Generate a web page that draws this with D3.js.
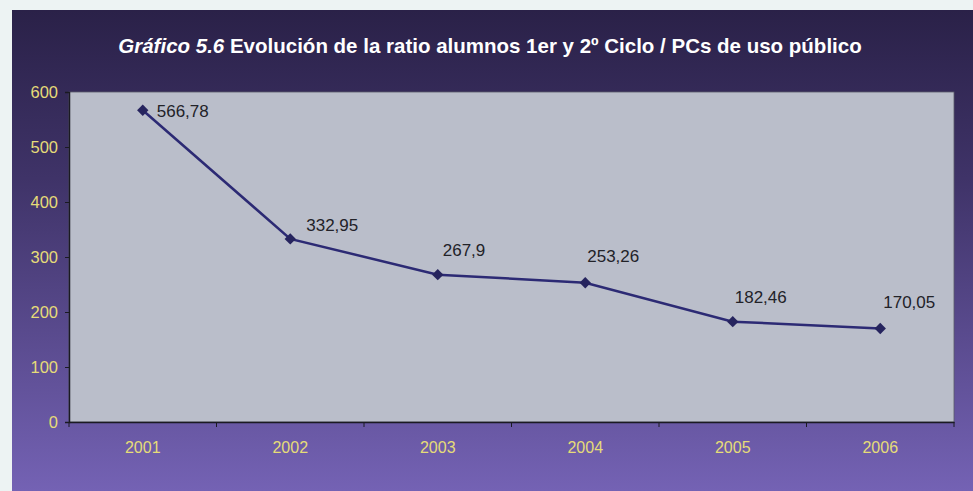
<!DOCTYPE html>
<html>
<head>
<meta charset="utf-8">
<script src="https://cdn.jsdelivr.net/npm/d3@7"></script>
<style>
  html, body { margin: 0; padding: 0; background: #edf3f3; }
  svg { display: block; }
</style>
</head>
<body>
<svg id="chart" width="973" height="491"></svg>
<script>
// Ratio alumnos / PCs de uso público, 2001–2006
const years = ["2001", "2002", "2003", "2004", "2005", "2006"];
const ratios = [566.78, 332.95, 267.9, 253.26, 182.46, 170.05];
const ratioLabels = ["566,78", "332,95", "267,9", "253,26", "182,46", "170,05"];
const yTicks = [0, 100, 200, 300, 400, 500, 600];

const W = 973, H = 491;
const panel = { x: 12, y: 10, w: W - 12, h: H - 10 };
const plot = { left: 69, right: 954, top: 92, bottom: 422 };
const FONT = "Liberation Sans, Arial, sans-serif";

// label placement relative to each marker: [dx, dy]
const labelOffsets = [[14, 7], [16, -8], [5, -19], [2, -21], [2, -19], [3, -20]];

const svg = d3.select("#chart");
const defs = svg.append("defs");

const grad = defs.append("linearGradient")
  .attr("id", "panelGrad").attr("x1", 0).attr("y1", 0).attr("x2", 0).attr("y2", 1);
grad.append("stop").attr("offset", "0%").attr("stop-color", "#2a2148");
grad.append("stop").attr("offset", "35%").attr("stop-color", "#3f3368");
grad.append("stop").attr("offset", "100%").attr("stop-color", "#7462b4");

svg.append("rect")
  .attr("x", panel.x).attr("y", panel.y)
  .attr("width", panel.w).attr("height", panel.h)
  .attr("fill", "url(#panelGrad)");

// title
const title = svg.append("text")
  .attr("x", 490).attr("y", 53)
  .attr("text-anchor", "middle")
  .attr("fill", "#ffffff")
  .attr("font-family", FONT)
  .attr("font-size", 20.5)
  .attr("font-weight", "bold");
title.append("tspan").attr("font-style", "italic").text("Gráfico 5.6");
title.append("tspan").text(" Evolución de la ratio alumnos 1er y 2º Ciclo / PCs de uso público");

const x = d3.scaleBand().domain(years).range([plot.left, plot.right]);
const y = d3.scaleLinear().domain([0, 600]).range([plot.bottom, plot.top]);

// plot area
svg.append("rect")
  .attr("x", plot.left).attr("y", plot.top)
  .attr("width", plot.right - plot.left).attr("height", plot.bottom - plot.top)
  .attr("fill", "#babeca")
  .attr("stroke", "#5a5a6a").attr("stroke-width", 0.8);

// y axis
const yAxis = svg.append("g")
  .attr("transform", `translate(${plot.left},0)`)
  .call(d3.axisLeft(y).tickValues(yTicks).tickSize(4).tickPadding(7).tickFormat(d3.format("d")));
yAxis.select(".domain").attr("stroke", "#1a1a22").attr("stroke-width", 1.5);
yAxis.selectAll(".tick line").attr("stroke", "#1a1a22");
yAxis.selectAll(".tick text")
  .attr("fill", "#e6dc78")
  .attr("font-family", FONT)
  .attr("font-size", 16.5);

// x axis with ticks at band boundaries
const xAxis = svg.append("g")
  .attr("transform", `translate(0,${plot.bottom})`)
  .call(d3.axisBottom(x).tickSize(0).tickPadding(20));
xAxis.select(".domain").attr("stroke", "#1a1a22").attr("stroke-width", 1.5);
xAxis.selectAll(".tick text")
  .attr("fill", "#e6dc78")
  .attr("font-family", FONT)
  .attr("font-size", 16);
const bounds = [plot.left].concat(years.map(d => x(d) + x.bandwidth()));
xAxis.selectAll(".bound")
  .data(bounds)
  .enter().append("line")
  .attr("class", "bound")
  .attr("x1", d => d).attr("x2", d => d)
  .attr("y1", 0).attr("y2", 5)
  .attr("stroke", "#1a1a22");

// series line
const pts = years.map((yr, i) => ({ yr, v: ratios[i], label: ratioLabels[i], i }));
const line = d3.line().x(d => x(d.yr) + x.bandwidth() / 2).y(d => y(d.v));
svg.append("path")
  .datum(pts)
  .attr("d", line)
  .attr("fill", "none")
  .attr("stroke", "#2c2a74")
  .attr("stroke-width", 2.5);

svg.selectAll(".marker")
  .data(pts)
  .enter().append("path")
  .attr("class", "marker")
  .attr("d", d3.symbol().type(d3.symbolDiamond2).size(82))
  .attr("transform", d => `translate(${x(d.yr) + x.bandwidth() / 2},${y(d.v)})`)
  .attr("fill", "#26245e");

svg.selectAll(".vlabel")
  .data(pts)
  .enter().append("text")
  .attr("class", "vlabel")
  .attr("x", d => x(d.yr) + x.bandwidth() / 2 + labelOffsets[d.i][0])
  .attr("y", d => y(d.v) + labelOffsets[d.i][1])
  .attr("fill", "#222228")
  .attr("font-family", FONT)
  .attr("font-size", 17)
  .text(d => d.label);
</script>
</body>
</html>
